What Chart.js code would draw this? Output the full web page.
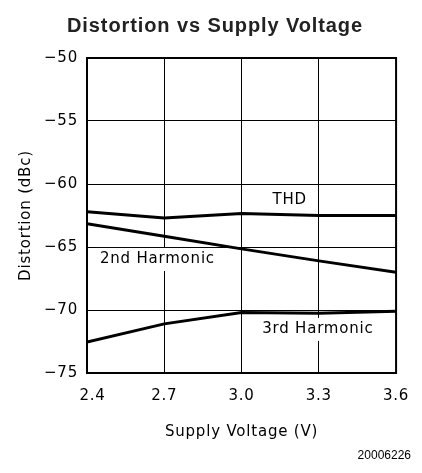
<!DOCTYPE html>
<html>
<head>
<meta charset="utf-8">
<script src="https://cdn.jsdelivr.net/npm/chart.js@4/dist/chart.umd.min.js"></script>
<style>
  html, body { margin: 0; padding: 0; background: #fff; }
  #wrap { width: 422px; height: 473px; }
</style>
</head>
<body>
<div id="wrap"><canvas id="aChart" width="422" height="473"></canvas></div>
<script>
// supply voltage (V)
let voltages = [2.4, 2.7, 3.0, 3.3, 3.6]

// distortion (dBc)
let thd = [-62.2, -62.7, -62.35, -62.5, -62.5]
let secondHarmonic = [-63.15, -64.15, -65.15, -66.1, -67.0]
let thirdHarmonic = [-72.55, -71.1, -70.2, -70.25, -70.1]

// curve labels: text, x (V), y (dBc) -- text left edge / vertical middle
let curveLabels = [
  { text: "THD", x: 3.12, y: -61.25 },
  { text: "2nd Harmonic", x: 2.45, y: -65.95 },
  { text: "3rd Harmonic", x: 3.08, y: -71.5 },
]

let tickFont = { family: "'DejaVu Sans'", size: 15 }

function points(ys) {
  return voltages.map((v, i) => ({ x: v, y: ys[i] }))
}

function lineSet(label, ys) {
  return {
    label: label,
    data: points(ys),
    borderColor: "#000",
    borderWidth: 3,
    pointRadius: 0,
    tension: 0,
    fill: false,
  }
}

// draws labels with white boxes under the lines, the frame and the title
let decorations = {
  id: "decorations",
  beforeDraw(chart) {
    chart.ctx.letterSpacing = "0.8px"
  },
  beforeDatasetsDraw(chart) {
    let ctx = chart.ctx
    let xs = chart.scales.x
    let ys = chart.scales.y
    ctx.save()
    ctx.font = "15px 'DejaVu Sans'"
    ctx.letterSpacing = "0.8px"
    ctx.textBaseline = "middle"
    ctx.textAlign = "left"
    curveLabels.forEach(l => {
      let px = xs.getPixelForValue(l.x)
      let py = ys.getPixelForValue(l.y)
      let w = ctx.measureText(l.text).width
      ctx.fillStyle = "#fff"
      ctx.fillRect(px - 3, py - 11, w + 6, 23)
      ctx.fillStyle = "#000"
      ctx.fillText(l.text, px, py)
    })
    ctx.restore()
  },
  afterDraw(chart) {
    let ctx = chart.ctx
    let a = chart.chartArea
    ctx.save()
    ctx.strokeStyle = "#000"
    ctx.lineWidth = 2
    ctx.strokeRect(a.left, a.top, a.right - a.left, a.bottom - a.top)

    ctx.fillStyle = "#222"
    ctx.font = "bold 20px 'Liberation Sans', Arial"
    ctx.letterSpacing = "0.9px"
    ctx.textAlign = "center"
    ctx.textBaseline = "middle"
    ctx.fillText("Distortion vs Supply Voltage", 215, 26)

    ctx.fillStyle = "#000"
    ctx.font = "12px 'Liberation Sans', Arial"
    ctx.letterSpacing = "0px"
    ctx.textAlign = "right"
    ctx.fillText("20006226", 411, 456)
    ctx.restore()
  },
}

let options = {
  responsive: false,
  animation: false,
  layout: {
    padding: { top: 58, right: 20, bottom: 0, left: 0 },
  },
  plugins: {
    legend: { display: false },
    tooltip: { enabled: false },
  },
  scales: {
    x: {
      type: "linear",
      min: 2.4,
      max: 3.6,
      afterFit: s => { s.height = 100 },
      border: { display: false },
      grid: { color: "#000", lineWidth: 1, drawTicks: false },
      ticks: {
        stepSize: 0.3,
        color: "#000",
        font: tickFont,
        padding: 14,
        maxRotation: 0,
        // first label sits a little right of its gridline, clear of the y labels
        callback: (v, i) => (i === 0 ? "  " : "") + Number(v).toFixed(1),
      },
      title: {
        display: true,
        text: "Supply Voltage (V)",
        color: "#000",
        font: tickFont,
        padding: { top: 0, bottom: 32 },
      },
    },
    y: {
      min: -75,
      max: -50,
      afterFit: s => { s.width = 87 },
      border: { display: false },
      grid: { color: "#000", lineWidth: 1, drawTicks: false },
      ticks: {
        stepSize: 5,
        color: "#000",
        font: tickFont,
        padding: 9,
        callback: v => "\u2212" + Math.abs(v),
      },
      title: {
        display: true,
        text: "Distortion (dBc)",
        color: "#000",
        font: tickFont,
        padding: { top: 17, bottom: 0 },
      },
    },
  },
}

let aChart = new Chart(document.getElementById("aChart"), {
  type: "line",
  data: {
    datasets: [
      lineSet("THD", thd),
      lineSet("2nd Harmonic", secondHarmonic),
      lineSet("3rd Harmonic", thirdHarmonic),
    ],
  },
  options: options,
  plugins: [decorations],
});
</script>
</body>
</html>
